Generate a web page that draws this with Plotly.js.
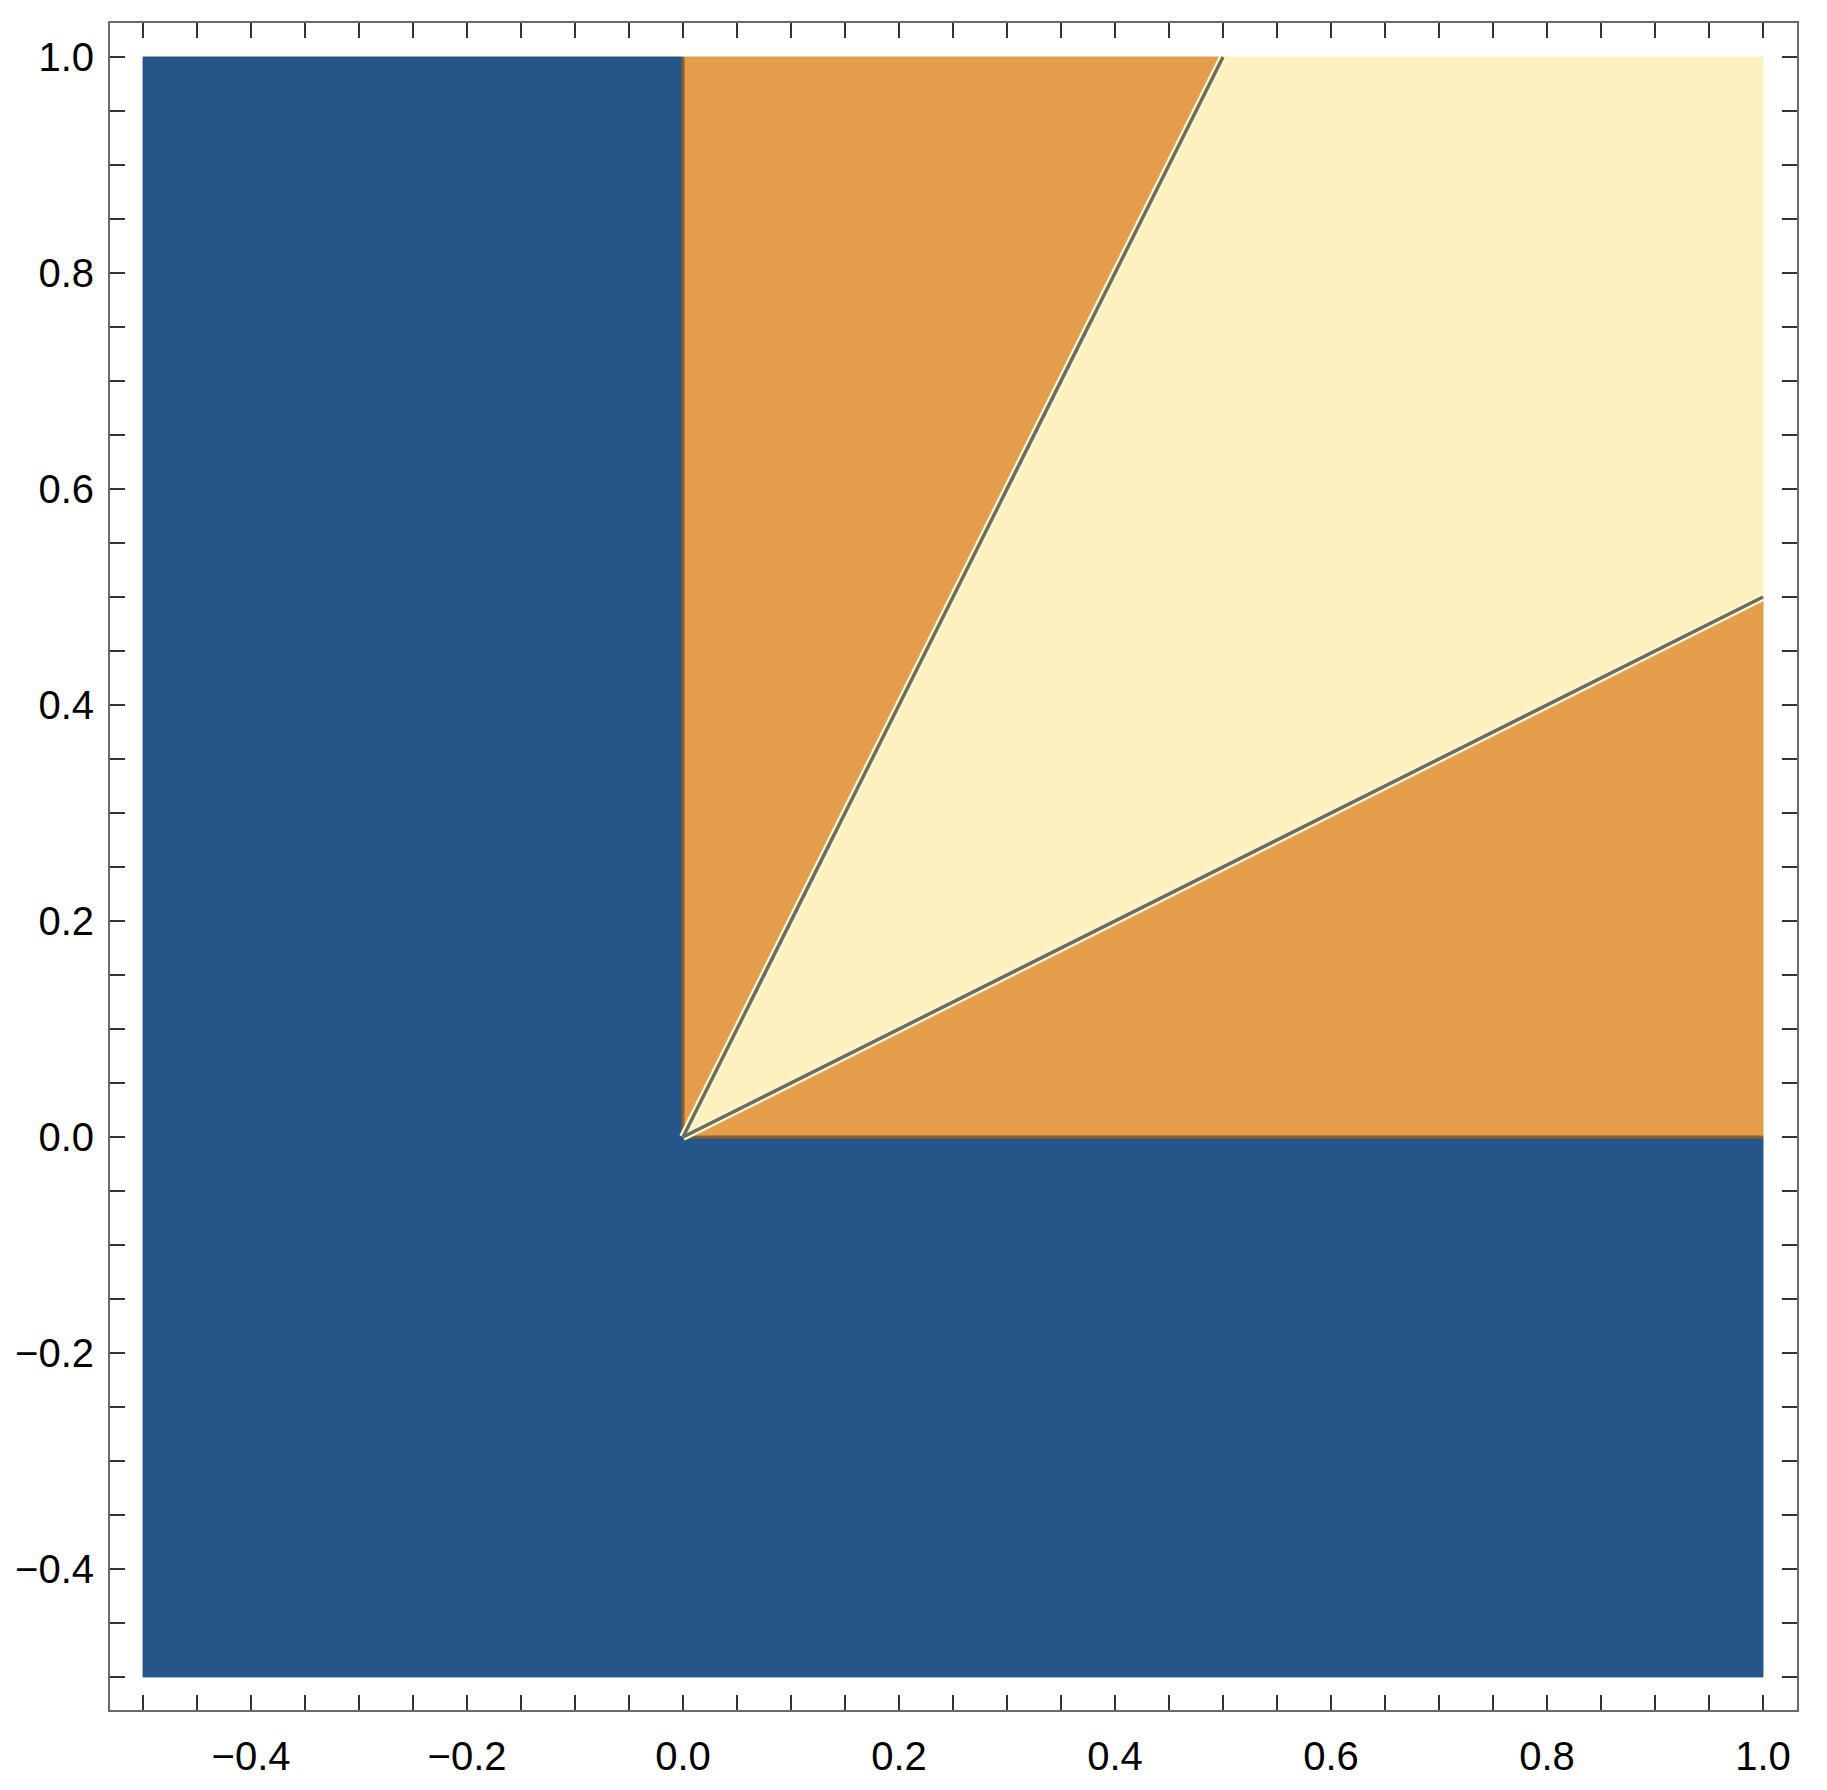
<!DOCTYPE html>
<html>
<head>
<meta charset="utf-8">
<script src="https://cdn.plot.ly/plotly-3.0.1.min.js"></script>
<style>
  html, body { margin: 0; padding: 0; background: #fff; }
  #grafica { width: 1827px; height: 1790px; }
</style>
</head>
<body>
<div id="grafica"></div>
<script>
// Regiones (vértices de los polígonos)
const azulX = [-0.5, 0, 0, 1, 1, -0.5, -0.5];
const azulY = [1, 1, 0, 0, -0.5, -0.5, 1];

const naranjaArribaX = [0, 0, 0.5, 0];
const naranjaArribaY = [0, 1, 1, 0];
const naranjaAbajoX = [0, 1, 1, 0];
const naranjaAbajoY = [0, 0, 0.5, 0];

const amarilloX = [0, 0.5, 1, 1, 0];
const amarilloY = [0, 1, 1, 0.5, 0];

// Líneas frontera
const diag1X = [0, 0.5], diag1Y = [0, 1];   // y = 2x
const diag2X = [0, 1], diag2Y = [0, 0.5];   // y = x/2
const ejeVX = [0, 0], ejeVY = [0, 1];       // x = 0
const ejeHX = [0, 1], ejeHY = [0, 0];       // y = 0

const azul = '#26558A';
const naranja = '#E49E4B';
const amarillo = '#FEF1C0';

function region(x, y, color) {
    return {
        x: x, y: y,
        type: 'scatter', mode: 'lines',
        fill: 'toself', fillcolor: color,
        line: { color: color, width: 1 },
        hoverinfo: 'skip', showlegend: false
    };
}

function linea(x, y, color, w) {
    return {
        x: x, y: y,
        type: 'scatter', mode: 'lines',
        line: { color: color, width: w },
        hoverinfo: 'skip', showlegend: false
    };
}

const trazas = [
    region(azulX, azulY, azul),
    region(naranjaArribaX, naranjaArribaY, naranja),
    region(naranjaAbajoX, naranjaAbajoY, naranja),
    region(amarilloX, amarilloY, amarillo),
    linea(ejeVX, ejeVY, '#8A5F2E', 3),
    linea(ejeHX, ejeHY, '#8A5F2E', 3),
    linea(diag1X, diag1Y, '#FFF6D2', 8),
    linea(diag2X, diag2Y, '#FFF6D2', 8),
    linea(diag1X, diag1Y, '#6E6D5C', 3.5),
    linea(diag2X, diag2Y, '#6E6D5C', 3.5)
];

const fuente = { family: 'Liberation Sans, Arial, sans-serif', size: 40, color: '#000' };

const eje = {
    range: [-0.5306, 1.0315],
    tick0: 0, dtick: 0.2,
    tickformat: '.1f',
    ticks: 'inside', ticklen: 15, tickwidth: 1.5, tickcolor: '#333',
    minor: { dtick: 0.05, ticks: 'inside', ticklen: 15, tickwidth: 1.5, tickcolor: '#333' },
    showline: true, linecolor: '#6a6a6a', linewidth: 2, mirror: 'ticks',
    showgrid: false, zeroline: false,
    tickfont: fuente
};

const layout = {
    width: 1827, height: 1790,
    margin: { l: 110, r: 30, t: 23, b: 80 },
    paper_bgcolor: '#fff', plot_bgcolor: '#fff',
    xaxis: Object.assign({}, eje, { ticklabelstandoff: 10 }),
    yaxis: Object.assign({}, eje, { ticklabelstandoff: 6 }),
    showlegend: false
};

Plotly.newPlot('grafica', trazas, layout, { displayModeBar: false, staticPlot: true });
</script>
</body>
</html>
